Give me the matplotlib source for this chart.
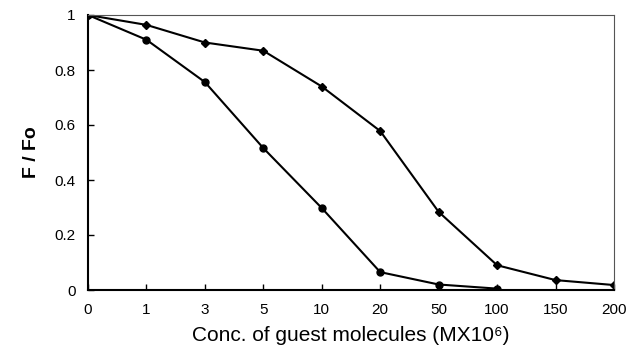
import numpy as np
import matplotlib
matplotlib.use('Agg')
import matplotlib.pyplot as plt

plt.rcParams['font.family'] = ['Liberation Sans', 'DejaVu Sans']

# concentration categories (equally spaced on the axis)
conc_labels = ['0', '1', '3', '5', '10', '20', '50', '100', '150', '200']

# F/Fo values, first curve stops at 100
lower = [1.0, 0.91, 0.756, 0.516, 0.298, 0.065, 0.02, 0.005]
upper = [1.0, 0.964, 0.90, 0.87, 0.74, 0.578, 0.284, 0.09, 0.036, 0.018]

fig = plt.figure(figsize=(6.3, 3.56), dpi=100)
ax = fig.add_axes([88/630, 66/356, 526/630, 275/356])

x = np.arange(len(conc_labels))
ax.plot(x[:len(lower)], lower, '-o', color='black', lw=1.5, ms=5)
ax.plot(x[:len(upper)], upper, '-D', color='black', lw=1.5, ms=4.5)

ax.set_xlim(0, len(conc_labels) - 1)
ax.set_ylim(0, 1)
ax.set_xticks(x)
ax.set_xticklabels(conc_labels)
ax.set_yticks([0, 0.2, 0.4, 0.6, 0.8, 1])
ax.set_yticklabels(['0', '0.2', '0.4', '0.6', '0.8', '1'])
ax.tick_params(direction='in', length=4, width=1, labelsize=11, pad=9)

for s in ['left', 'bottom']:
    ax.spines[s].set_linewidth(1.5)
for s in ['top', 'right']:
    ax.spines[s].set_linewidth(0.8)
    ax.spines[s].set_color('#555555')

ax.set_xlabel('Conc. of guest molecules (MX10\u2076)', fontsize=15, labelpad=7)
ax.set_ylabel('F / Fo', fontsize=14, fontweight='bold', labelpad=10)

fig.savefig('out.png', dpi=100)
